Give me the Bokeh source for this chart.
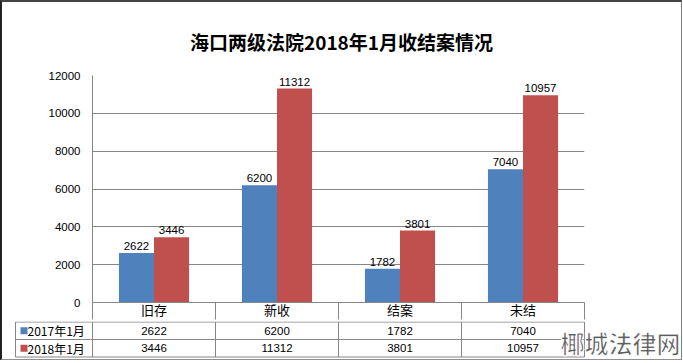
from bokeh.plotting import figure
from bokeh.models import Range1d, FixedTicker, Div, ColumnDataSource
from bokeh.layouts import column
from bokeh.transform import dodge
from bokeh.core.properties import value
from bokeh.embed import file_html
from bokeh.resources import INLINE

# ---- data ----
title_text = "海口两级法院2018年1月收结案情况"
categories = ["旧存", "新收", "结案", "未结"]
series_names = ["2017年1月", "2018年1月"]
values_2017 = [2622, 6200, 1782, 7040]
values_2018 = [3446, 11312, 3801, 10957]
y_ticks = [0, 2000, 4000, 6000, 8000, 10000, 12000]
watermark = "椰城法律网"

# ---- style / layout ----
colors = ["#4F81BD", "#C0504D"]
GRID = "#868686"
W = 679            # inner width (inside the outer border)
LEFT = 90          # frame left offset
RIGHT = 97         # frame right offset
n = len(categories)
UNIT = (W - LEFT - RIGHT) / n
BAR_W = 0.285
CAT_ROW = 17
NUM_FONT = value("Liberation Sans")
CJK_FONT = value("Noto Sans CJK SC")

xs = [i + 0.5 for i in range(n)]
src = ColumnDataSource(dict(
    x=xs, cat=categories,
    v17=values_2017, v18=values_2018,
    l17=[str(v) for v in values_2017], l18=[str(v) for v in values_2018],
))

title_div = Div(
    text=(f'<div style="width:{W}px;text-align:center;font-family:\'Noto Sans CJK SC\';'
          f'font-weight:bold;font-size:19px;line-height:24px;padding-top:28px;color:#000">'
          f'{title_text}</div>'),
    width=W, height=66, margin=(0, 0, 0, 0))

p = figure(width=W, height=253, x_range=Range1d(0, n), y_range=Range1d(0, y_ticks[-1]),
           output_backend="svg", toolbar_location=None, frame_align=False,
           min_border_left=LEFT, min_border_right=RIGHT, min_border_top=7,
           min_border_bottom=CAT_ROW, margin=(0, 0, 0, 0))
p.outline_line_color = None
p.background_fill_color = "white"
p.border_fill_color = "white"

for off, col, vkey, lkey in [(-BAR_W / 2, colors[0], "v17", "l17"), (BAR_W / 2, colors[1], "v18", "l18")]:
    p.vbar(x=dodge("x", off, range=p.x_range), top=vkey, width=BAR_W, fill_color=col,
           line_color=None, source=src)
    p.text(x=dodge("x", off, range=p.x_range), y=vkey, text=lkey, text_align="center",
           text_baseline="bottom", y_offset=-3, text_font=NUM_FONT, text_font_size="11.5px",
           text_color="black", source=src)

p.xaxis.ticker = FixedTicker(ticks=xs, minor_ticks=list(range(n + 1)))
p.xaxis.major_label_overrides = {x: c for x, c in zip(xs, categories)}
p.xaxis.major_tick_out = 0
p.xaxis.major_tick_in = 0
p.xaxis.minor_tick_out = CAT_ROW
p.xaxis.minor_tick_in = 0
p.xaxis.minor_tick_line_color = GRID
p.xaxis.axis_line_color = GRID
p.xaxis.major_label_standoff = -20
p.xaxis.major_label_text_font = "Noto Sans CJK SC"
p.xaxis.major_label_text_font_size = "13px"
p.xaxis.major_label_text_color = "black"

p.yaxis.ticker = FixedTicker(ticks=y_ticks)
p.yaxis.major_tick_out = 0
p.yaxis.major_tick_in = 0
p.yaxis.minor_tick_line_color = None
p.yaxis.axis_line_color = GRID
p.yaxis.major_label_standoff = 12
p.yaxis.major_label_text_font = "Liberation Sans"
p.yaxis.major_label_text_font_size = "11.5px"
p.yaxis.major_label_text_color = "black"

p.xgrid.grid_line_color = None
p.ygrid.ticker = FixedTicker(ticks=y_ticks)
p.ygrid.grid_line_color = GRID
p.ygrid.grid_line_width = 1

# ---- data table below the plot ----
ROW_PX = 17.5
T_H = 38
rows = len(series_names)
y_top = rows + 0.5 / ROW_PX
t = figure(width=W, height=T_H, x_range=Range1d(-LEFT / UNIT, (W - LEFT) / UNIT),
           y_range=Range1d(y_top - T_H / ROW_PX, y_top), output_backend="svg",
           toolbar_location=None, x_axis_location=None, y_axis_location=None,
           frame_align=False,
           min_border_left=0, min_border_right=0, min_border_top=0, min_border_bottom=0,
           margin=(0, 0, 0, 0))
t.outline_line_color = None
t.grid.visible = False

leg_left = (13 - LEFT) / UNIT
t.segment(x0=[leg_left] * (rows + 1), x1=[n] * (rows + 1), y0=list(range(rows + 1)),
          y1=list(range(rows + 1)), line_color=GRID, line_width=1)
vx = [leg_left] + list(range(n + 1))
t.segment(x0=vx, x1=vx, y0=[0] * len(vx), y1=[rows] * len(vx), line_color=GRID, line_width=1)

row_y = [rows - 0.5 - r for r in range(rows)]
t.scatter(x=[leg_left + 8.5 / UNIT] * rows, y=row_y, marker="square", size=7,
          fill_color=colors, line_color=None)
t.text(x=[leg_left + 12 / UNIT] * rows, y=row_y, text=series_names, text_align="left",
       text_baseline="middle", text_font=CJK_FONT, text_font_size="12px", text_color="black")

for r, vals in enumerate([values_2017, values_2018]):
    t.text(x=xs, y=[row_y[r]] * n, text=[str(v) for v in vals], text_align="center",
           text_baseline="middle", text_font=NUM_FONT, text_font_size="11.5px",
           text_color="black")

t.text(x=[(W - LEFT) / UNIT], y=[y_top - T_H / ROW_PX], text=[watermark], text_align="right",
       text_baseline="bottom", y_offset=0, x_offset=-1, text_font=CJK_FONT,
       text_font_size="24px", text_font_style="bold", text_color="#5e5e5e",
       text_outline_color="white")

layout = column(title_div, p, t, spacing=0,
                styles={"border-left": "2px solid #222", "border-top": "2px solid #444",
                        "border-right": "1px solid #808080", "border-bottom": "1px solid #909090",
                        "background": "white"})

open("out.html", "w").write(file_html(layout, INLINE))
